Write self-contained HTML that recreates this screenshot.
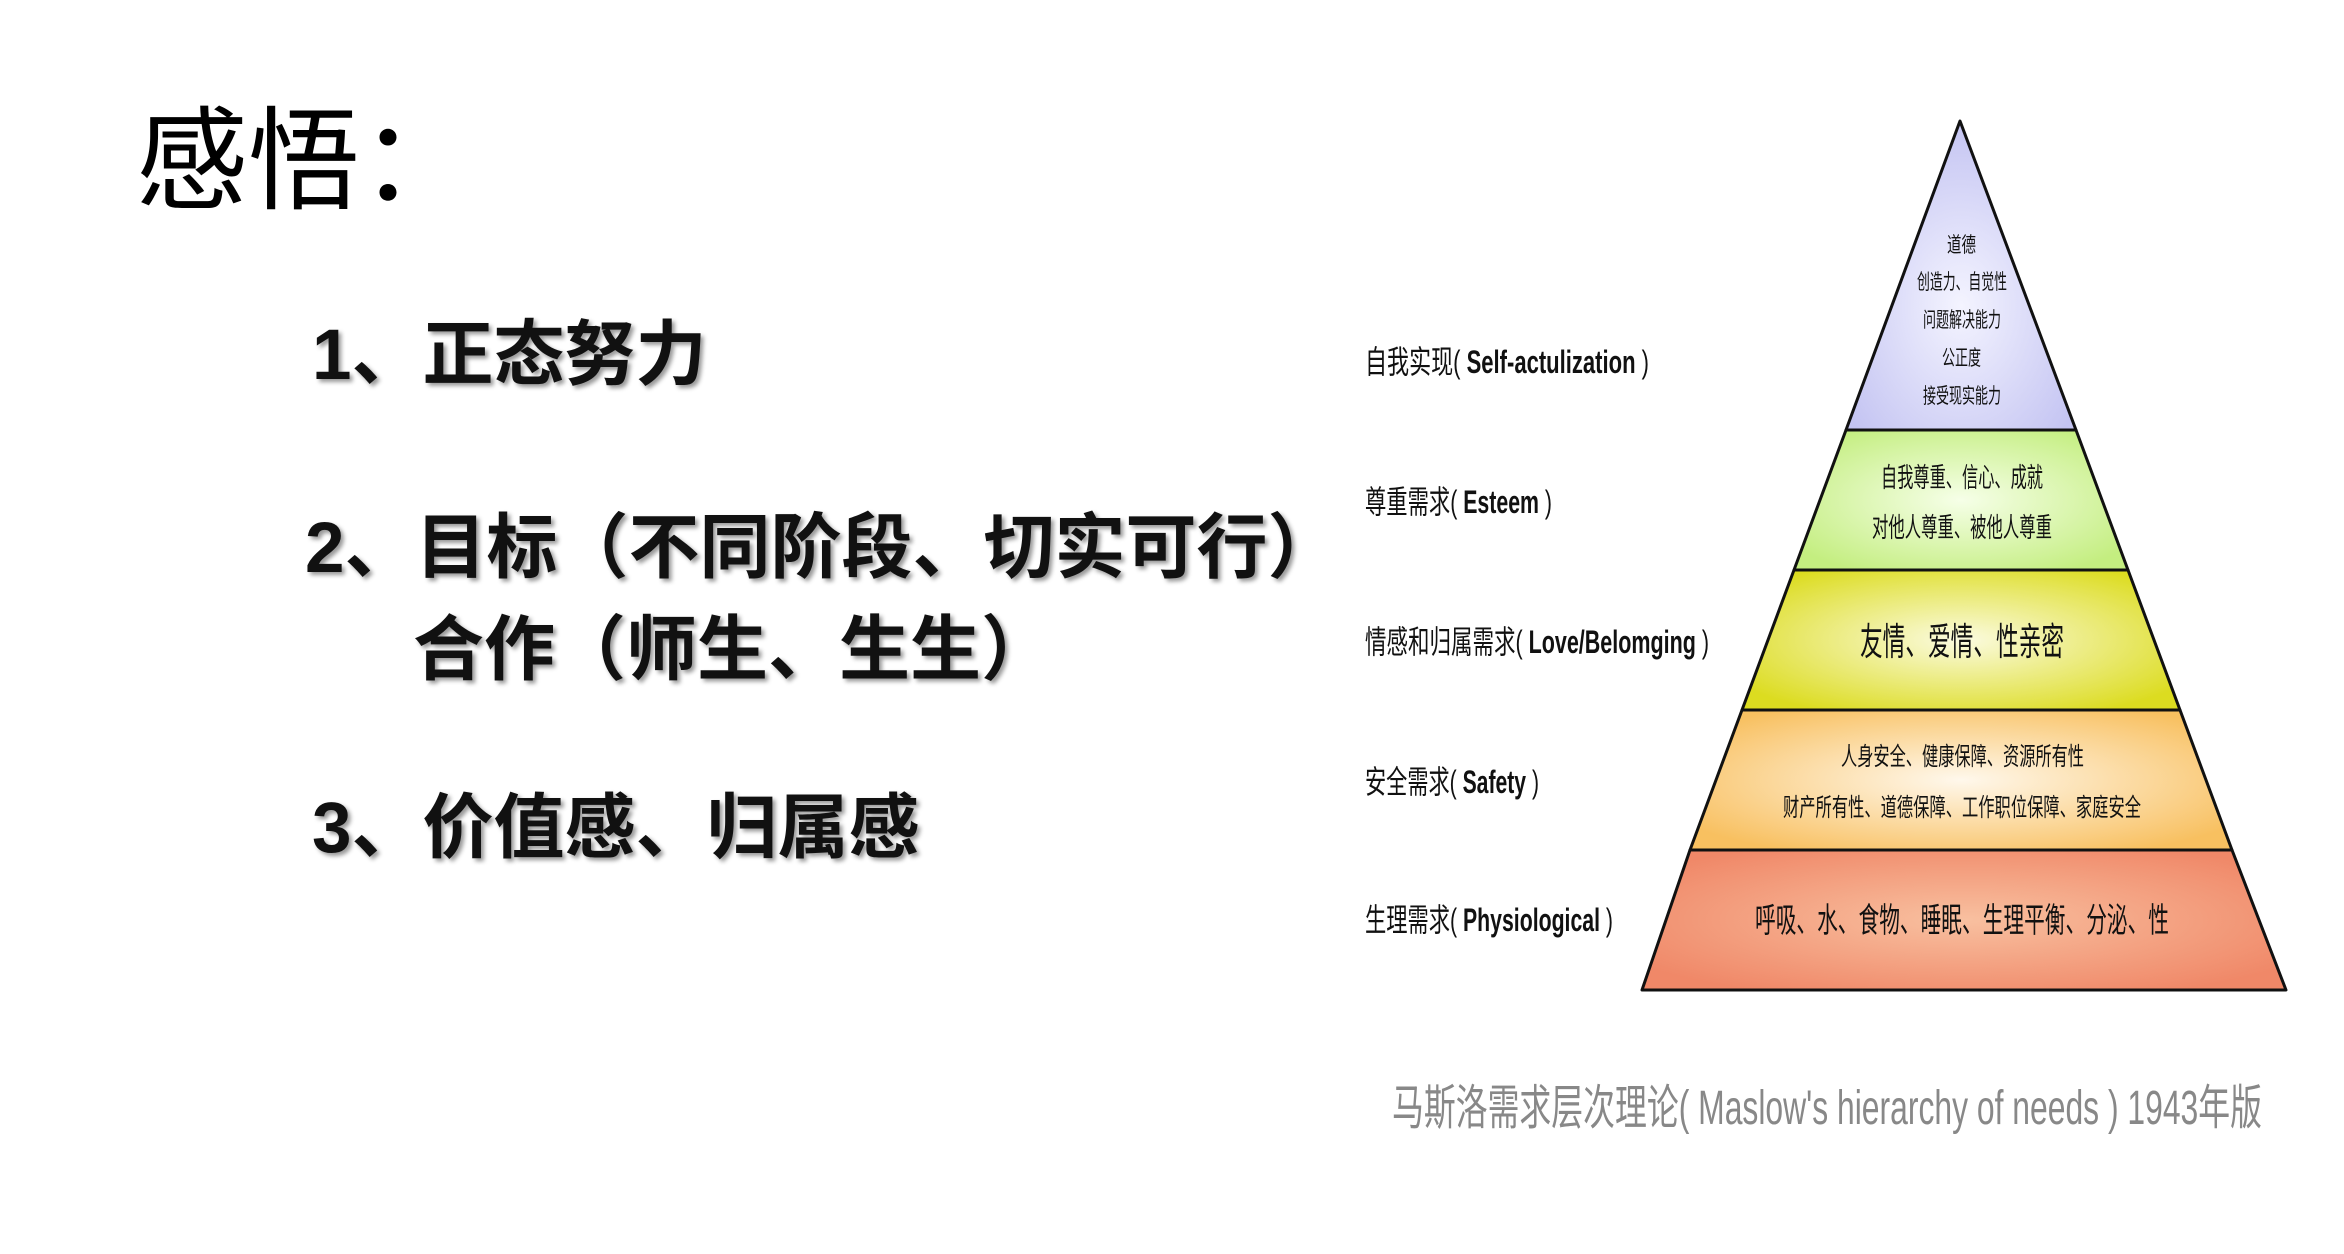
<!DOCTYPE html>
<html><head><meta charset="utf-8"><style>
body{margin:0;width:2344px;height:1254px;background:#fff;overflow:hidden;position:relative;font-family:"Liberation Sans","Noto Sans CJK SC",sans-serif}
.t{position:absolute;white-space:nowrap}
.item{font-weight:bold;font-size:71px;color:#111;text-shadow:3px 3px 4px #999;line-height:1}
</style></head><body>
<div class="t" style="left:136px;top:100px;font-size:112px;line-height:1.1;color:#000">感悟：</div>
<div class="t item" style="left:312px;top:320px">1、正态努力</div>
<div class="t item" style="left:305px;top:513px">2、目标（不同阶段、切实可行）</div>
<div class="t item" style="left:413px;top:615px">合作（师生、生生）</div>
<div class="t item" style="left:312px;top:793px">3、价值感、归属感</div>
<svg width="2344" height="1254" style="position:absolute;left:0;top:0" xmlns="http://www.w3.org/2000/svg">
<defs>
<linearGradient id="ln" x1="0" x2="1"><stop offset="0" stop-color="#1a2a40"/><stop offset="0.6" stop-color="#5a7090"/><stop offset="1" stop-color="#b0c4dc"/></linearGradient>
<radialGradient id="g1" cx="0.5" cy="0.6" r="0.6"><stop offset="0" stop-color="#f4f4ff"/><stop offset="1" stop-color="#c4c4f2"/></radialGradient>
<radialGradient id="g2" cx="0.5" cy="0.5" r="0.6"><stop offset="0" stop-color="#f6ffe8"/><stop offset="1" stop-color="#c4ee80"/></radialGradient>
<radialGradient id="g3" cx="0.5" cy="0.5" r="0.6"><stop offset="0" stop-color="#fbfbe0"/><stop offset="1" stop-color="#dcdc20"/></radialGradient>
<radialGradient id="g4" cx="0.5" cy="0.5" r="0.6"><stop offset="0" stop-color="#fff8ec"/><stop offset="1" stop-color="#f8c060"/></radialGradient>
<radialGradient id="g5" cx="0.5" cy="0.5" r="0.6"><stop offset="0" stop-color="#f8c0a0"/><stop offset="1" stop-color="#f08868"/></radialGradient>
</defs>
<g stroke="url(#ln)" stroke-width="3">
<line x1="1365" y1="430" x2="1850" y2="430"/>
<line x1="1365" y1="570" x2="1798" y2="570"/>
<line x1="1365" y1="710" x2="1746" y2="710"/>
<line x1="1365" y1="850" x2="1694" y2="850"/>
<line x1="1365" y1="990" x2="1642" y2="990"/>
</g>
<g stroke="#111" stroke-width="3" stroke-linejoin="round">
<polygon points="1960,121 2076,430 1846,430" fill="url(#g1)"/>
<polygon points="1846,430 2076,430 2128,570 1794,570" fill="url(#g2)"/>
<polygon points="1794,570 2128,570 2180,710 1742,710" fill="url(#g3)"/>
<polygon points="1742,710 2180,710 2232,850 1690,850" fill="url(#g4)"/>
<polygon points="1690,850 2232,850 2286,990 1642,990" fill="url(#g5)"/>
</g>
<g font-family="'Liberation Sans','Noto Sans CJK SC',sans-serif" fill="#111" lengthAdjust="spacingAndGlyphs">
<g font-size="21">
<text x="1947" y="252" textLength="29" lengthAdjust="spacingAndGlyphs">道德</text>
<text x="1917" y="289" textLength="90" lengthAdjust="spacingAndGlyphs">创造力、自觉性</text>
<text x="1923" y="327" textLength="78" lengthAdjust="spacingAndGlyphs">问题解决能力</text>
<text x="1942" y="365" textLength="39" lengthAdjust="spacingAndGlyphs">公正度</text>
<text x="1923" y="403" textLength="78" lengthAdjust="spacingAndGlyphs">接受现实能力</text></g>
<g font-size="27">
<text x="1881" y="487" textLength="162" lengthAdjust="spacingAndGlyphs">自我尊重、信心、成就</text>
<text x="1872" y="537" textLength="180" lengthAdjust="spacingAndGlyphs">对他人尊重、被他人尊重</text></g>
<text x="1860" y="655" font-size="38" textLength="204" lengthAdjust="spacingAndGlyphs">友情、爱情、性亲密</text>
<g font-size="25">
<text x="1841" y="765" textLength="243" lengthAdjust="spacingAndGlyphs">人身安全、健康保障、资源所有性</text>
<text x="1783" y="816" textLength="358" lengthAdjust="spacingAndGlyphs">财产所有性、道德保障、工作职位保障、家庭安全</text></g>
<text x="1755" y="932" font-size="34" textLength="414" lengthAdjust="spacingAndGlyphs">呼吸、水、食物、睡眠、生理平衡、分泌、性</text>
</g>
<g font-family="'Liberation Sans','Noto Sans CJK SC',sans-serif" fill="#111" font-size="32">
<text x="1365" y="373" textLength="284" lengthAdjust="spacingAndGlyphs">自我实现( <tspan font-weight="bold">Self-actulization</tspan> )</text>
<text x="1365" y="513" textLength="187" lengthAdjust="spacingAndGlyphs">尊重需求( <tspan font-weight="bold">Esteem</tspan> )</text>
<text x="1365" y="653" textLength="344" lengthAdjust="spacingAndGlyphs">情感和归属需求( <tspan font-weight="bold">Love/Belomging</tspan> )</text>
<text x="1365" y="793" textLength="174" lengthAdjust="spacingAndGlyphs">安全需求( <tspan font-weight="bold">Safety</tspan> )</text>
<text x="1365" y="931" textLength="248" lengthAdjust="spacingAndGlyphs">生理需求( <tspan font-weight="bold">Physiological</tspan> )</text>
</g>
<text x="1392" y="1124" font-family="'Liberation Sans','Noto Sans CJK SC',sans-serif" font-size="48" fill="#888" textLength="870" lengthAdjust="spacingAndGlyphs">马斯洛需求层次理论( Maslow's hierarchy of needs )  1943年版</text>
</svg>
</body></html>
